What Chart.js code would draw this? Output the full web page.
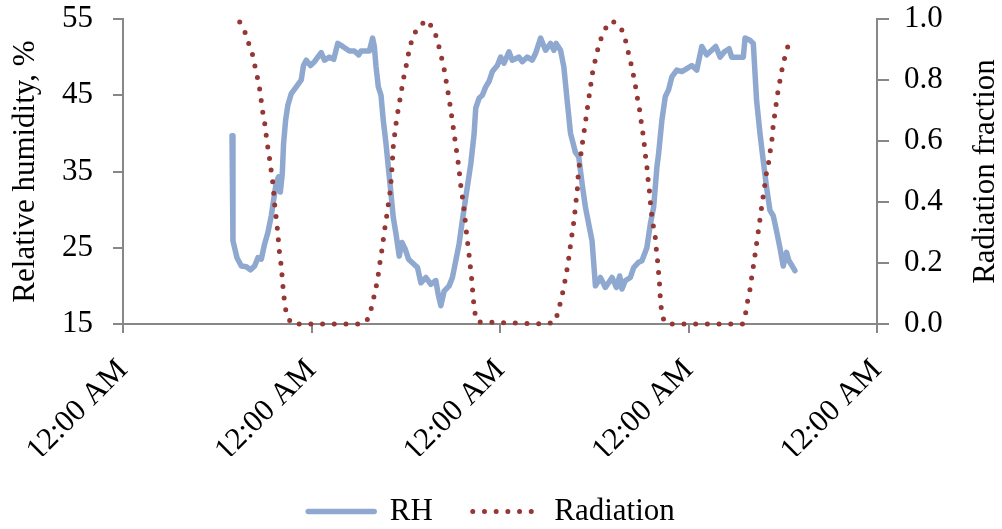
<!DOCTYPE html>
<html>
<head>
<meta charset="utf-8">
<script src="https://cdn.jsdelivr.net/npm/chart.js@4.4.1/dist/chart.umd.min.js"></script>
<style>
html,body{margin:0;padding:0;background:#fff;}
#c{display:block;}
</style>
</head>
<body>
<canvas id="c" width="1002" height="529"></canvas>
<script>
// ---- data (time in hours from first midnight) ----
const xTickLabel = '12:00 AM';
const seriesNames = ['RH', 'Radiation'];
const yTitle = 'Relative humidity, %';
const y2Title = 'Radiation fraction';

const rhHours = [13.88,14.0,14.51,15.07,15.71,16.22,16.76,17.18,17.61,18.03,
18.45,18.88,19.17,19.52,19.81,20.03,20.28,20.44,20.7,20.99,
21.42,22.06,22.69,22.98,23.33,23.87,24.38,24.8,25.23,25.65,
26.29,26.83,27.34,27.97,28.83,29.46,30.01,30.31,31.37,31.78,
32.0,32.22,32.51,32.85,33.14,33.49,33.78,34.12,34.41,34.76,
35.17,35.52,35.94,36.36,37.08,37.5,37.93,38.57,39.2,39.83,
40.13,40.47,40.89,41.52,41.94,42.37,42.79,43.21,43.64,44.28,
44.7,44.91,45.33,45.75,46.18,46.6,47.02,47.66,48.09,48.51,
49.14,49.56,50.41,50.83,51.47,52.1,52.53,53.17,53.8,54.44,
54.86,55.15,55.71,56.13,56.55,56.98,57.61,58.03,58.45,58.88,
59.3,59.72,60.15,60.79,61.42,62.26,62.82,63.24,63.53,63.96,
64.6,65.02,65.65,66.07,66.7,67.14,67.56,67.98,68.19,68.61,
69.04,69.46,69.88,70.51,71.15,71.78,72.42,73.05,73.69,74.32,
74.95,75.47,76.03,76.57,77.17,77.5,78.98,79.2,79.83,80.25,
80.67,81.1,81.52,81.94,82.37,82.79,83.21,83.64,84.06,84.48,
84.79,85.21,85.55];
const rhValues = [39.7,25.9,23.7,22.6,22.5,22.1,22.6,23.7,23.5,25.5,
27,29.2,31.2,33.6,34.3,32.3,34.7,38.6,41.7,43.7,
45.2,46.1,47,48.9,49.6,48.9,49.4,50,50.6,49.6,
50,49.7,51.8,51.4,50.8,50.8,50.3,50.8,50.8,52.5,
51.4,48.7,46.1,45,41.7,38.6,35.6,32.1,29,26.8,
23.9,25.7,24.8,23.5,22.8,22.4,20.4,21.1,20.2,20.7,
18.9,17.4,19.3,20,21.1,23.3,25.5,28.6,31.6,36,
39.9,43.3,44.6,45,46.1,46.8,48.1,48.9,50,49.2,
50.7,49.6,50,49.4,50,49.6,50.5,52.5,50.9,51.8,
50.9,51.8,50.9,48.7,44.3,40,37.5,36.9,33.4,30.3,
28.1,25.9,20,21.1,19.8,21.1,19.8,21.3,19.6,20.7,
21.1,22.4,23.1,23.3,25,28.1,30.3,35.6,37.3,41.7,
44.8,45.7,47.4,48.3,48.1,48.5,48.9,48.3,51.4,50.3,
50.9,51.4,50,50.7,51.1,50,50,52.5,52.2,51.8,
44.3,40,36.4,32.9,29.9,29.2,27.2,25,22.6,24.4,
23.3,22.6,22];

const radHours = [14.86,15.49,16.0,16.47,16.8,17.1,17.4,17.61,17.82,18.07,
18.25,18.45,18.67,18.88,19.09,19.21,19.34,19.52,19.68,19.81,
19.94,20.15,20.28,20.41,20.57,20.79,21.42,30.6,
31.15,31.66,32.0,32.29,32.55,32.76,32.98,33.18,33.4,33.61,
33.82,34.03,34.22,34.35,34.44,34.67,34.83,35.09,35.34,35.59,
35.85,36.19,36.44,36.86,37.5,38.69,
39.53,40.04,40.38,40.76,41.02,41.27,41.52,41.74,41.94,42.16,
42.37,42.58,42.79,42.92,43.14,43.35,43.52,43.68,43.85,44.03,
44.19,44.36,44.48,44.61,44.74,45.12,54.0,
55.07,55.4,55.83,56.13,56.42,56.67,56.85,57.05,57.27,57.49,
57.61,57.82,57.9,58.03,58.25,58.45,58.67,58.88,59.09,59.3,
59.52,59.72,60.03,60.36,60.79,61.33,62.26,
63.33,63.87,64.25,64.6,64.93,65.23,65.44,65.74,65.94,66.16,
66.35,66.5,66.7,66.83,67.01,67.14,67.3,67.52,67.77,67.9,
68.06,68.19,68.32,68.4,68.53,68.83,69.2,78.86,
79.28,79.53,79.83,80.04,80.25,80.47,80.67,80.89,81.1,81.31,
81.52,81.74,81.94,82.25,82.45,82.67,82.79,83.01,83.21,83.43,
83.72,83.98,84.36,84.79];
const radValues = [0.99,0.96,0.92,0.885,0.845,0.81,0.77,0.73,0.69,0.654,
0.615,0.577,0.54,0.5,0.46,0.423,0.383,0.345,0.306,0.267,
0.23,0.19,0.15,0.11,0.072,0.035,0,0,
0.016,0.055,0.095,0.13,0.17,0.21,0.245,0.285,0.325,0.36,
0.4,0.437,0.5,0.556,0.594,0.635,0.672,0.71,0.748,0.786,
0.823,0.862,0.9,0.938,0.972,0.997,
0.966,0.931,0.89,0.854,0.816,0.777,0.739,0.7,0.664,0.624,
0.585,0.547,0.508,0.47,0.43,0.391,0.352,0.311,0.273,0.234,
0.196,0.158,0.119,0.082,0.043,0.007,0,
0.008,0.043,0.083,0.122,0.161,0.2,0.235,0.273,0.312,0.352,
0.391,0.429,0.468,0.509,0.547,0.586,0.624,0.662,0.701,0.739,
0.777,0.816,0.854,0.892,0.931,0.966,0.994,
0.975,0.942,0.9,0.862,0.824,0.783,0.748,0.708,0.67,0.632,
0.593,0.556,0.517,0.479,0.44,0.401,0.361,0.322,0.284,0.246,
0.207,0.169,0.128,0.09,0.052,0.015,0,0,
0.037,0.076,0.114,0.152,0.188,0.227,0.264,0.304,0.344,0.383,
0.421,0.46,0.498,0.536,0.575,0.613,0.654,0.692,0.731,0.769,
0.808,0.845,0.885,0.922];

const xTicks = [0, 24, 48, 72, 96];
const yTicks = [15, 25, 35, 45, 55];
const y2Ticks = [0, 0.2, 0.4, 0.6, 0.8, 1.0];

// ---- chart ----
const FONT = "'Liberation Serif', 'Times New Roman', serif";
const FS = 31;
const AXIS = '#878787';
const PLOT_TOP = 19, PLOT_BOTTOM = 324, PLOT_LEFT = 123, PLOT_RIGHT = 877, W = 1002, H = 529;
const PAD_BOTTOM = -8, PAD_RIGHT = 19;

const rhData = rhHours.map((h, i) => ({x: h, y: rhValues[i]}));
const radData = radHours.map((h, i) => ({x: h, y: radValues[i]}));

const rightTitle = {
  id: 'rightTitle',
  afterDraw(chart) {
    const c = chart.ctx, a = chart.chartArea;
    c.save();
    c.font = FS + 'px ' + FONT;
    c.fillStyle = '#000';
    c.textAlign = 'center';
    c.textBaseline = 'alphabetic';
    c.translate(994, (a.top + a.bottom) / 2);
    c.rotate(-Math.PI / 2);
    c.fillText(y2Title, 0, 0);
    c.restore();
  }
};

function zeroPad(s) { s.paddingTop = 0; s.paddingBottom = 0; s.paddingLeft = 0; s.paddingRight = 0; }

new Chart(document.getElementById('c'), {
  type: 'line',
  data: {
    datasets: [
      {label: seriesNames[0], data: rhData, yAxisID: 'y', borderColor: '#8EA8CF', backgroundColor: '#8EA8CF',
       borderWidth: 5.5, pointRadius: 0, tension: 0, borderCapStyle: 'round', borderJoinStyle: 'round', clip: false, order: 1},
      {label: seriesNames[1], data: radData, yAxisID: 'y2', borderColor: '#953735', backgroundColor: '#953735',
       borderWidth: 5, borderDash: [0, 11.7], borderCapStyle: 'round', borderJoinStyle: 'round', pointRadius: 0, tension: 0, clip: false, order: 0}
    ]
  },
  options: {
    responsive: false, animation: false, devicePixelRatio: 1,
    layout: {padding: {top: PLOT_TOP, left: 0, right: PAD_RIGHT, bottom: PAD_BOTTOM}},
    plugins: {
      legend: {
        position: 'bottom',
        labels: {
          usePointStyle: true, pointStyle: 'line', pointStyleWidth: 66,
          font: {family: FONT, size: FS}, color: '#000', padding: 40,
          sort: (a, b) => a.datasetIndex - b.datasetIndex,
          generateLabels(chart) {
            const items = Chart.defaults.plugins.legend.labels.generateLabels(chart);
            items.forEach(it => {
              const ds = chart.data.datasets[it.datasetIndex];
              it.lineDash = ds.borderDash || [];
              it.lineWidth = ds.borderWidth;
              it.lineCap = ds.borderCapStyle;
              it.strokeStyle = ds.borderColor;
              it.pointStyle = 'line';
            });
            return items;
          }
        }
      },
      tooltip: {enabled: false}
    },
    scales: {
      x: {
        type: 'linear', min: xTicks[0], max: xTicks[xTicks.length - 1],
        afterBuildTicks(s) { s.ticks = xTicks.map(v => ({value: v})); },
        ticks: {callback: () => xTickLabel, maxRotation: 45, minRotation: 45, font: {family: FONT, size: FS}, color: '#000', padding: 19},
        grid: {drawOnChartArea: false, drawTicks: true, tickLength: 9, color: AXIS, lineWidth: 2},
        border: {color: AXIS, width: 2},
        afterFit(s) {
          zeroPad(s);
          const lh = s.chart.legend ? s.chart.legend.height : 0;
          s.height = H - PAD_BOTTOM - lh - PLOT_BOTTOM;
        }
      },
      y: {
        position: 'left', min: yTicks[0], max: yTicks[yTicks.length - 1],
        afterBuildTicks(s) { s.ticks = yTicks.map(v => ({value: v})); },
        ticks: {font: {family: FONT, size: FS}, color: '#000', padding: 20},
        grid: {drawOnChartArea: false, drawTicks: true, tickLength: 10, color: AXIS, lineWidth: 2},
        border: {color: AXIS, width: 2},
        title: {display: true, text: yTitle, font: {family: FONT, size: FS}, color: '#000', padding: {top: 7, bottom: 0}},
        afterFit(s) { zeroPad(s); s.width = PLOT_LEFT; }
      },
      y2: {
        position: 'right', min: y2Ticks[0], max: y2Ticks[y2Ticks.length - 1],
        afterBuildTicks(s) { s.ticks = y2Ticks.map(v => ({value: v})); },
        ticks: {font: {family: FONT, size: FS}, color: '#000', padding: 15, callback: v => Number(v).toFixed(1)},
        grid: {drawOnChartArea: false, drawTicks: true, tickLength: 12, color: AXIS, lineWidth: 2},
        border: {color: AXIS, width: 2},
        afterFit(s) { zeroPad(s); s.width = W - PAD_RIGHT - PLOT_RIGHT; }
      }
    }
  },
  plugins: [rightTitle]
});
</script>
</body>
</html>
